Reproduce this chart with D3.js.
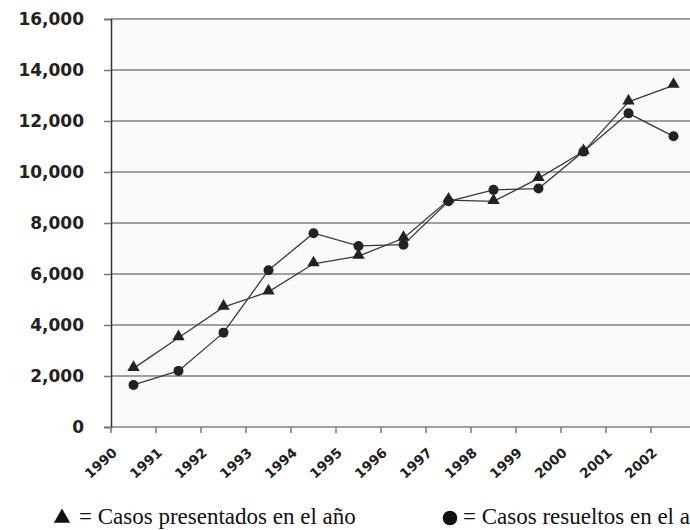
<!DOCTYPE html>
<html>
<head>
<meta charset="utf-8">
<script src="https://cdn.jsdelivr.net/npm/d3@7"></script>
<style>
  body { margin: 0; background: #fff; }
</style>
</head>
<body>
<svg id="chart"></svg>
<script>
// Chart data
const years = ["1990", "1991", "1992", "1993", "1994", "1995", "1996", "1997", "1998", "1999", "2000", "2001", "2002"];
const presentados = [2300, 3500, 4700, 5300, 6400, 6700, 7400, 8900, 8850, 9750, 10800, 12750, 13400];
const resueltos = [1650, 2200, 3700, 6150, 7600, 7100, 7150, 8850, 9300, 9350, 10800, 12300, 11400];
const yTicks = [0, 2000, 4000, 6000, 8000, 10000, 12000, 14000, 16000];
const legendLabels = ["= Casos presentados en el año", "= Casos resueltos en el año"];

// Chart attributes
const chartAttr = {
    width: 690,
    height: 530,
    left: 111,
    right: 696,
    top: 19,
    bottom: 427
};

const svgElement = d3.select("#chart")
    .attr("width", chartAttr.width)
    .attr("height", chartAttr.height);

// Scales
const xBand = d3.scaleBand()
    .domain(years)
    .range([chartAttr.left, chartAttr.right])
    .padding(0);

const yScale = d3.scaleLinear()
    .domain([0, 16000])
    .range([chartAttr.bottom, chartAttr.top]);

// Plot background
svgElement.append("rect")
    .attr("x", chartAttr.left)
    .attr("y", chartAttr.top)
    .attr("width", chartAttr.right - chartAttr.left)
    .attr("height", chartAttr.bottom - chartAttr.top)
    .attr("fill", "#fafafa");

// Gridlines
svgElement.append("g")
    .selectAll("line")
    .data(yTicks)
    .enter()
    .append("line")
    .attr("x1", chartAttr.left)
    .attr("x2", chartAttr.right)
    .attr("y1", d => yScale(d))
    .attr("y2", d => yScale(d))
    .attr("stroke", "#a0a0a0")
    .attr("stroke-width", 2);

// Y axis
const yAxis = d3.axisLeft(yScale)
    .tickValues(yTicks)
    .tickFormat(d3.format(","))
    .tickSize(7)
    .tickPadding(20);

const yG = svgElement.append("g")
    .attr("transform", "translate(" + chartAttr.left + ",0)")
    .call(yAxis);
yG.select(".domain").attr("stroke", "#333").attr("stroke-width", 1.5);
yG.selectAll(".tick line").attr("stroke", "#777").attr("stroke-width", 1.5);
yG.selectAll("text")
    .attr("fill", "#222")
    .style("font-family", "DejaVu Sans, Verdana, sans-serif")
    .style("font-weight", "bold")
    .style("font-size", "17px");

// X axis: ticks between categories, labels rotated
const xAxis = d3.axisBottom(xBand)
    .tickSize(0)
    .tickPadding(0);

const xG = svgElement.append("g")
    .attr("transform", "translate(0," + chartAttr.bottom + ")")
    .call(xAxis);
xG.select(".domain").remove();
xG.selectAll("text")
    .attr("x", 0)
    .attr("y", 0)
    .attr("dy", 0)
    .attr("text-anchor", "end")
    .attr("transform", "translate(" + (-xBand.bandwidth() / 2 + 7) + ",27) rotate(-42)")
    .attr("fill", "#222")
    .style("font-family", "DejaVu Sans, Verdana, sans-serif")
    .style("font-weight", "bold")
    .style("font-size", "13.5px");

// Tick marks at the category boundaries
svgElement.append("g")
    .selectAll("line")
    .data(years)
    .enter()
    .append("line")
    .attr("x1", d => xBand(d))
    .attr("x2", d => xBand(d))
    .attr("y1", chartAttr.bottom)
    .attr("y2", chartAttr.bottom + 6)
    .attr("stroke", "#777")
    .attr("stroke-width", 1.5);

// Lines
const line = d3.line()
    .x((d, i) => xBand(years[i]) + xBand.bandwidth() / 2)
    .y(d => yScale(d));

[presentados, resueltos].forEach(series => {
    svgElement.append("path")
        .datum(series)
        .attr("fill", "none")
        .attr("stroke", "#3a3a3a")
        .attr("stroke-width", 1.3)
        .attr("d", line);
});

// Markers
const triangle = d3.symbol().type(d3.symbolTriangle).size(66);

svgElement.append("g")
    .selectAll("path")
    .data(presentados)
    .enter()
    .append("path")
    .attr("d", triangle)
    .attr("transform", (d, i) => "translate(" + (xBand(years[i]) + xBand.bandwidth() / 2) + "," + (yScale(d) - 1) + ")")
    .attr("fill", "#222");

svgElement.append("g")
    .selectAll("circle")
    .data(resueltos)
    .enter()
    .append("circle")
    .attr("cx", (d, i) => xBand(years[i]) + xBand.bandwidth() / 2)
    .attr("cy", d => yScale(d))
    .attr("r", 5)
    .attr("fill", "#222");

// Legend
const legend = svgElement.append("g");

legend.append("path")
    .attr("d", d3.symbol().type(d3.symbolTriangle).size(115))
    .attr("transform", "translate(62,518)")
    .attr("fill", "#111");

legend.append("circle")
    .attr("cx", 450)
    .attr("cy", 518)
    .attr("r", 7.3)
    .attr("fill", "#111");

legend.selectAll("text")
    .data(legendLabels)
    .enter()
    .append("text")
    .attr("x", (d, i) => i === 0 ? 79 : 463)
    .attr("y", 524)
    .attr("fill", "#111")
    .style("font-family", "Liberation Serif, DejaVu Serif, serif")
    .style("font-size", "23px")
    .text(d => d);
</script>
</body>
</html>
